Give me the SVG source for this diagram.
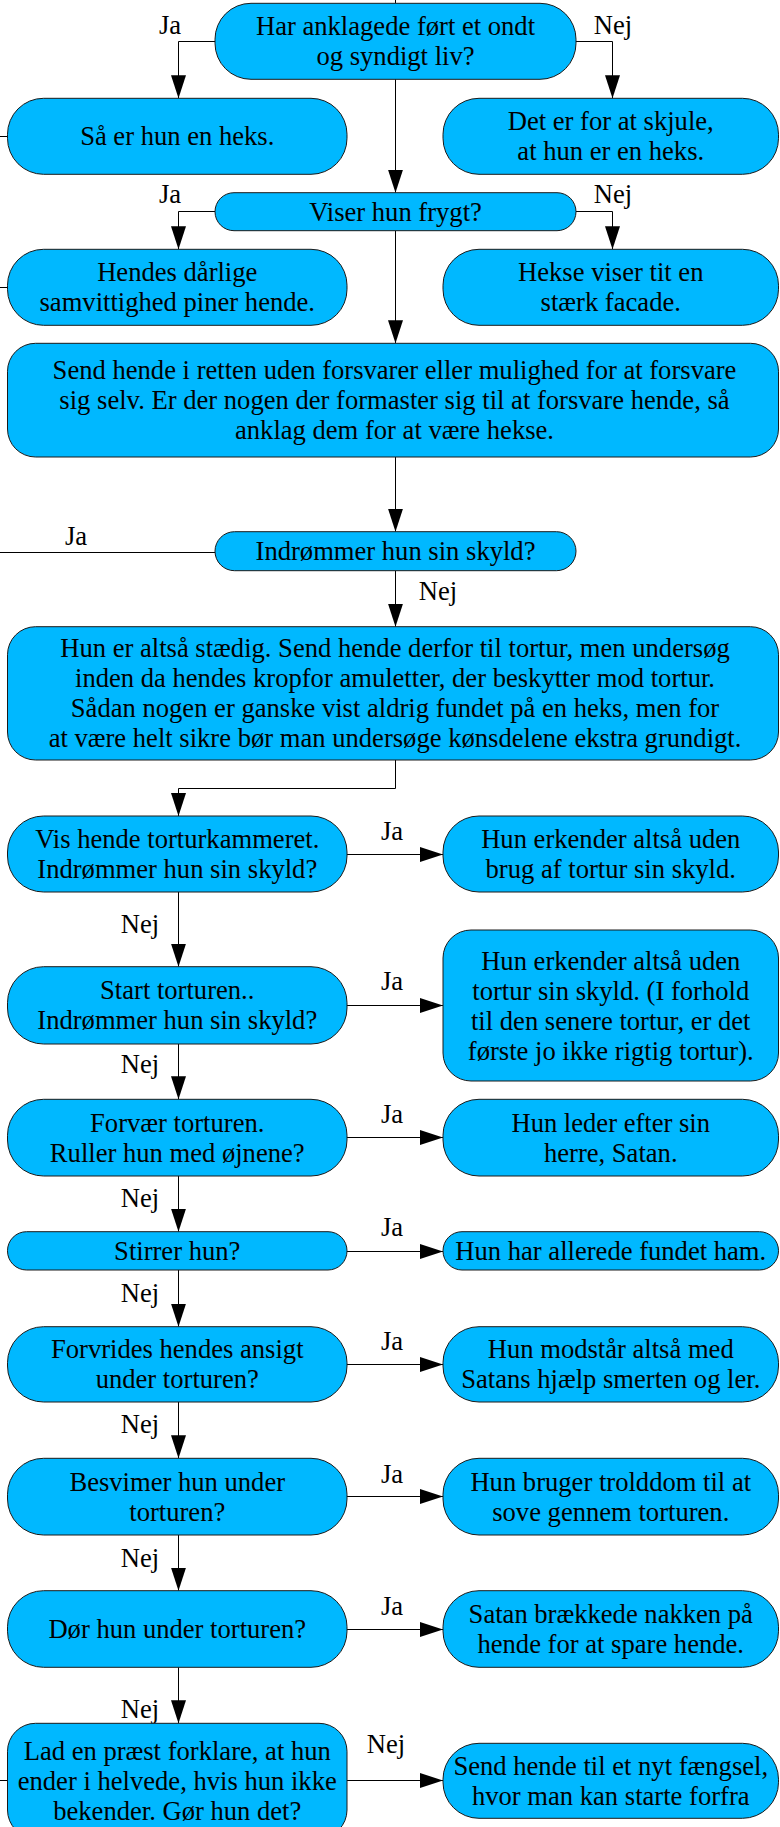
<svg xmlns="http://www.w3.org/2000/svg" width="780" height="1827" viewBox="0 0 780 1827">
<defs>
<style>
.n{fill:#00B8FF;stroke:#1a1a1a;stroke-width:1}
.t{font-family:"Liberation Serif","Times New Roman",serif;font-size:26.6px;fill:#000;text-anchor:middle}
.c{fill:none;stroke:#000;stroke-width:1}
.a{stroke:#000;stroke-width:1;fill:none;marker-end:url(#ah)}
</style>
<marker id="ah" markerUnits="userSpaceOnUse" markerWidth="23" markerHeight="16" refX="23" refY="8" orient="auto">
<path d="M0,0.5 L23,8 L0,15.5 z" fill="#000"/>
</marker>
</defs>
<rect width="780" height="1827" fill="#fff"/>
<g id="connectors">
<path class="c" d="M395.5,0 V3.3"/>
<path class="a" d="M215,41.5 H178.5 V98.3"/>
<path class="a" d="M576,41.5 H612.5 V98.3"/>
<path class="a" d="M395.5,79.3 V192.7"/>
<path class="c" d="M0,136.5 H7.5"/>
<path class="a" d="M215,211.5 H178.5 V249.3"/>
<path class="a" d="M576,211.5 H612.5 V249.3"/>
<path class="a" d="M395.5,230.7 V343.3"/>
<path class="c" d="M0,287.5 H7.5"/>
<path class="a" d="M395.5,457 V531.7"/>
<path class="c" d="M215,552.5 H0"/>
<path class="a" d="M395.5,570.7 V626.7"/>
<path class="a" d="M395.5,760 V788.5 H178.5 V816"/>
<path class="a" d="M347,854.5 H443"/>
<path class="a" d="M178.5,892 V966.7"/>
<path class="a" d="M347,1005.5 H443"/>
<path class="a" d="M178.5,1044 V1099.3"/>
<path class="a" d="M347,1137.5 H443"/>
<path class="a" d="M178.5,1176 V1231.7"/>
<path class="a" d="M347,1251.5 H443"/>
<path class="a" d="M178.5,1270 V1326.7"/>
<path class="a" d="M347,1364.5 H443"/>
<path class="a" d="M178.5,1402 V1458.3"/>
<path class="a" d="M347,1496.5 H443"/>
<path class="a" d="M178.5,1535 V1590.7"/>
<path class="a" d="M347,1629.5 H443"/>
<path class="a" d="M178.5,1667.3 V1723.3"/>
<path class="a" d="M347,1780.5 H443"/>
<path class="c" d="M0,1780.5 H7.5"/>
<g class="t">
<text x="170" y="34">Ja</text>
<text x="613" y="34">Nej</text>
<text x="170" y="203">Ja</text>
<text x="613" y="203">Nej</text>
<text x="76" y="545">Ja</text>
<text x="438" y="600">Nej</text>
<text x="392" y="840">Ja</text>
<text x="140" y="933">Nej</text>
<text x="392" y="990">Ja</text>
<text x="140" y="1073">Nej</text>
<text x="392" y="1123">Ja</text>
<text x="140" y="1207">Nej</text>
<text x="392" y="1236">Ja</text>
<text x="140" y="1302">Nej</text>
<text x="392" y="1350">Ja</text>
<text x="140" y="1433">Nej</text>
<text x="392" y="1483">Ja</text>
<text x="140" y="1567">Nej</text>
<text x="392" y="1615">Ja</text>
<text x="140" y="1718">Nej</text>
<text x="386" y="1753">Nej</text>
</g>
</g>
<g id="n1"><rect class="n" x="215" y="3.3" width="361" height="76" rx="36"/>
<text class="t" x="395.5" y="35.3">Har anklagede ført et ondt</text><text class="t" x="395.5" y="65.3">og syndigt liv?</text></g>
<g id="n2"><rect class="n" x="7.5" y="98.3" width="339.5" height="76" rx="36"/>
<text class="t" x="177.25" y="145.3">Så er hun en heks.</text></g>
<g id="n3"><rect class="n" x="443" y="98.3" width="335.5" height="76" rx="36"/>
<text class="t" x="610.75" y="130.3">Det er for at skjule,</text><text class="t" x="610.75" y="160.3">at hun er en heks.</text></g>
<g id="n4"><rect class="n" x="215" y="192.7" width="361" height="38" rx="19"/>
<text class="t" x="395.5" y="220.7">Viser hun frygt?</text></g>
<g id="n5"><rect class="n" x="7.5" y="249.3" width="339.5" height="76" rx="36"/>
<text class="t" x="177.25" y="281.3">Hendes dårlige</text><text class="t" x="177.25" y="311.3">samvittighed piner hende.</text></g>
<g id="n6"><rect class="n" x="443" y="249.3" width="335.5" height="76" rx="36"/>
<text class="t" x="610.75" y="281.3">Hekse viser tit en</text><text class="t" x="610.75" y="311.3">stærk facade.</text></g>
<g id="n7"><rect class="n" x="7.5" y="343.3" width="771" height="113.7" rx="28"/>
<text class="t" x="394.5" y="379.2">Send hende i retten uden forsvarer eller mulighed for at forsvare</text>
<text class="t" x="394.5" y="409.2">sig selv. Er der nogen der formaster sig til at forsvare hende, så</text>
<text class="t" x="394.5" y="439.2">anklag dem for at være hekse.</text></g>
<g id="n8"><rect class="n" x="215" y="531.7" width="361" height="39" rx="19.5"/>
<text class="t" x="395.5" y="560.2">Indrømmer hun sin skyld?</text></g>
<g id="n9"><rect class="n" x="7.5" y="626.7" width="771" height="133.3" rx="28"/>
<text class="t" x="395" y="657.3">Hun er altså stædig. Send hende derfor til tortur, men undersøg</text>
<text class="t" x="395" y="687.3">inden da hendes kropfor amuletter, der beskytter mod tortur.</text>
<text class="t" x="395" y="717.3">Sådan nogen er ganske vist aldrig fundet på en heks, men for</text>
<text class="t" x="395" y="747.3">at være helt sikre bør man undersøge kønsdelene ekstra grundigt.</text></g>
<g id="n10"><rect class="n" x="7.5" y="816" width="339.5" height="76" rx="36"/>
<text class="t" x="177.25" y="848">Vis hende torturkammeret.</text><text class="t" x="177.25" y="878">Indrømmer hun sin skyld?</text></g>
<g id="n11"><rect class="n" x="443" y="816" width="335.5" height="76" rx="36"/>
<text class="t" x="610.75" y="848">Hun erkender altså uden</text><text class="t" x="610.75" y="878">brug af tortur sin skyld.</text></g>
<g id="n12"><rect class="n" x="7.5" y="966.7" width="339.5" height="77.3" rx="36"/>
<text class="t" x="177.25" y="999.3">Start torturen..</text><text class="t" x="177.25" y="1029.3">Indrømmer hun sin skyld?</text></g>
<g id="n13"><rect class="n" x="443" y="930" width="335.5" height="151" rx="28"/>
<text class="t" x="610.75" y="969.5">Hun erkender altså uden</text>
<text class="t" x="610.75" y="999.5">tortur sin skyld. (I forhold</text>
<text class="t" x="610.75" y="1029.5">til den senere tortur, er det</text>
<text class="t" x="610.75" y="1059.5">første jo ikke rigtig tortur).</text></g>
<g id="n14"><rect class="n" x="7.5" y="1099.3" width="339.5" height="76.7" rx="36"/>
<text class="t" x="177.25" y="1131.7">Forvær torturen.</text><text class="t" x="177.25" y="1161.7">Ruller hun med øjnene?</text></g>
<g id="n15"><rect class="n" x="443" y="1099.3" width="335.5" height="76.7" rx="36"/>
<text class="t" x="610.75" y="1131.7">Hun leder efter sin</text><text class="t" x="610.75" y="1161.7">herre, Satan.</text></g>
<g id="n16"><rect class="n" x="7.5" y="1231.7" width="339.5" height="38.3" rx="19"/>
<text class="t" x="177.25" y="1259.9">Stirrer hun?</text></g>
<g id="n17"><rect class="n" x="443" y="1231.7" width="335.5" height="38.3" rx="19"/>
<text class="t" x="610.75" y="1259.9">Hun har allerede fundet ham.</text></g>
<g id="n18"><rect class="n" x="7.5" y="1326.7" width="339.5" height="75.3" rx="36"/>
<text class="t" x="177.25" y="1358.3">Forvrides hendes ansigt</text><text class="t" x="177.25" y="1388.3">under torturen?</text></g>
<g id="n19"><rect class="n" x="443" y="1326.7" width="335.5" height="75.3" rx="36"/>
<text class="t" x="610.75" y="1358.3">Hun modstår altså med</text><text class="t" x="610.75" y="1388.3">Satans hjælp smerten og ler.</text></g>
<g id="n20"><rect class="n" x="7.5" y="1458.3" width="339.5" height="76.7" rx="36"/>
<text class="t" x="177.25" y="1490.7">Besvimer hun under</text><text class="t" x="177.25" y="1520.7">torturen?</text></g>
<g id="n21"><rect class="n" x="443" y="1458.3" width="335.5" height="76.7" rx="36"/>
<text class="t" x="610.75" y="1490.7">Hun bruger trolddom til at</text><text class="t" x="610.75" y="1520.7">sove gennem torturen.</text></g>
<g id="n22"><rect class="n" x="7.5" y="1590.7" width="339.5" height="76.6" rx="36"/>
<text class="t" x="177.25" y="1638">Dør hun under torturen?</text></g>
<g id="n23"><rect class="n" x="443" y="1590.7" width="335.5" height="76.6" rx="36"/>
<text class="t" x="610.75" y="1623">Satan brækkede nakken på</text><text class="t" x="610.75" y="1653">hende for at spare hende.</text></g>
<g id="n24"><rect class="n" x="7.5" y="1723.3" width="339.5" height="114.7" rx="28"/>
<text class="t" x="177.25" y="1759.7">Lad en præst forklare, at hun</text>
<text class="t" x="177.25" y="1789.7">ender i helvede, hvis hun ikke</text>
<text class="t" x="177.25" y="1819.7">bekender. Gør hun det?</text></g>
<g id="n25"><rect class="n" x="443" y="1743.3" width="335.5" height="75" rx="36"/>
<text class="t" x="610.75" y="1774.8">Send hende til et nyt fængsel,</text><text class="t" x="610.75" y="1804.8">hvor man kan starte forfra</text></g>
</svg>
